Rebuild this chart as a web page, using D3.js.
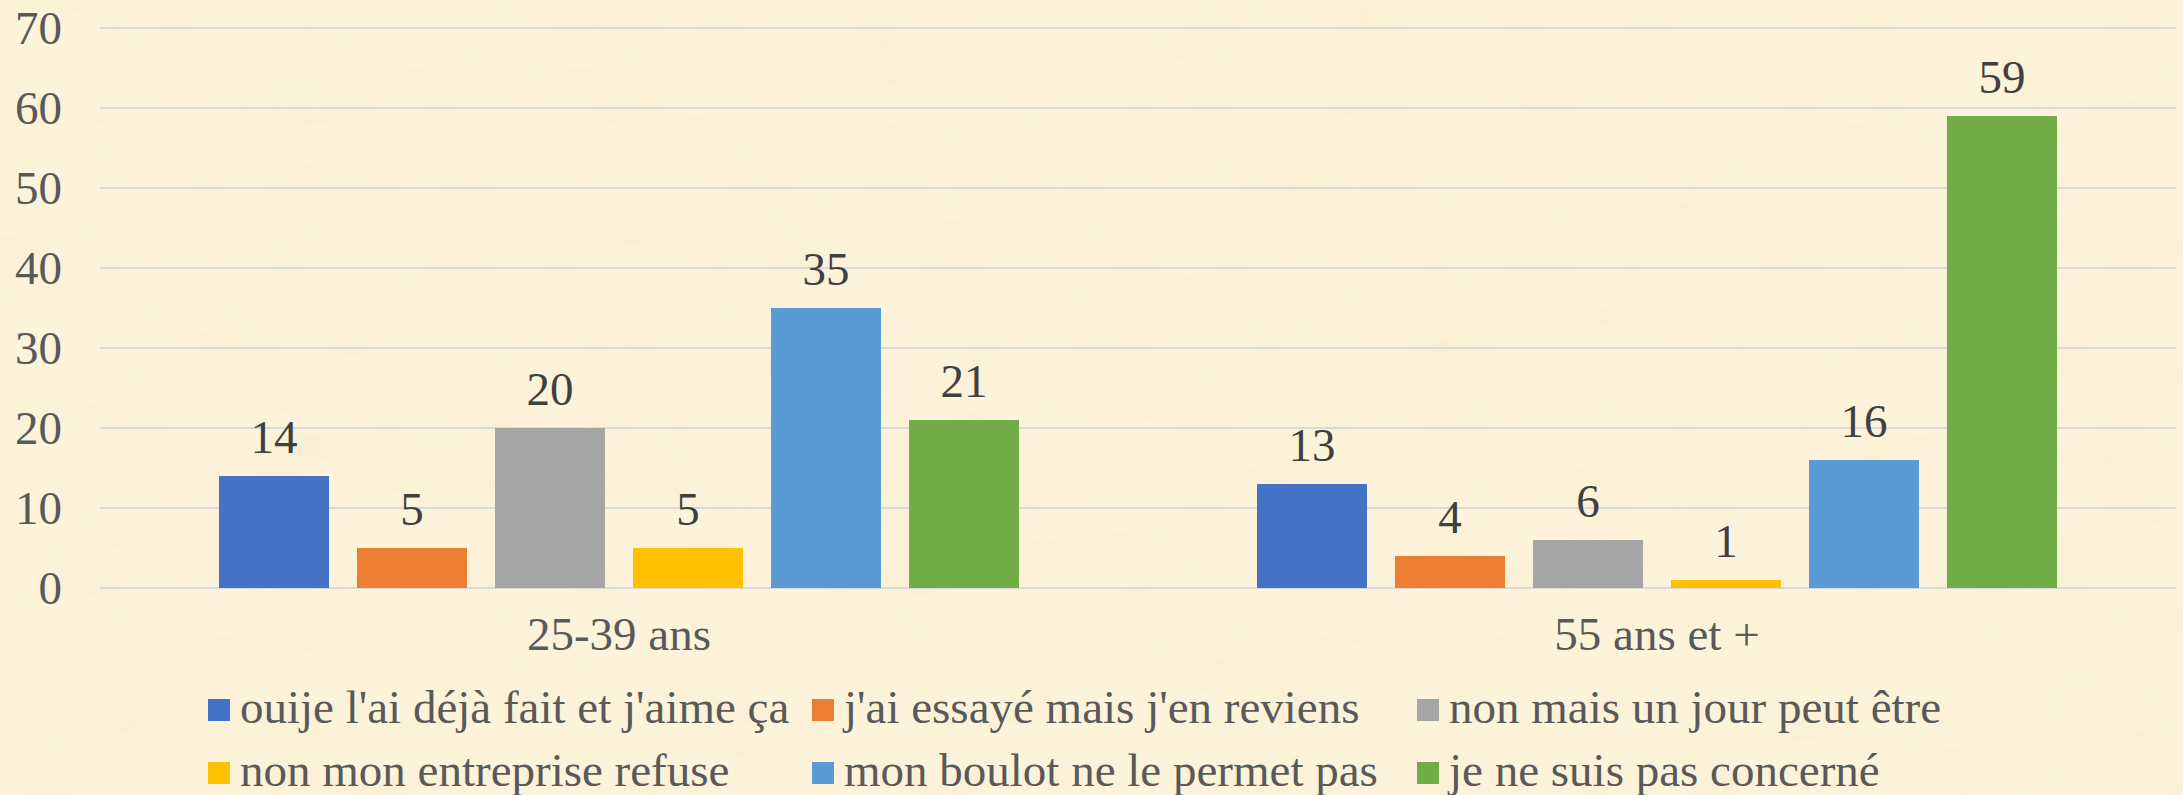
<!DOCTYPE html>
<html><head><meta charset="utf-8"><script src="https://cdn.jsdelivr.net/npm/d3@7"></script></head>
<body style="margin:0;background:#fdf3db">
<script>
const categories = ["25-39 ans", "55 ans et +"];
const series = [
  "ouije l'ai déjà fait et j'aime ça",
  "j'ai essayé mais j'en reviens",
  "non mais un jour peut être",
  "non mon entreprise refuse",
  "mon boulot ne le permet pas",
  "je ne suis pas concerné"
];
const values_25_39 = [14, 5, 20, 5, 35, 21];
const values_55 = [13, 4, 6, 1, 16, 59];
const yTicks = [0, 10, 20, 30, 40, 50, 60, 70];
const colors = ["#4472c4", "#ed7d31", "#a5a5a5", "#ffc000", "#5b9bd5", "#70ad47"];

const width = 2183, height = 795;
const values = [values_25_39, values_55];
const serifFont = '"Times New Roman"';

const svg = d3.select("body").append("svg").attr("width", width).attr("height", height);

// parchment background
const defs = svg.append("defs");
const filt = defs.append("filter").attr("id", "paper")
  .attr("x", 0).attr("y", 0).attr("width", "100%").attr("height", "100%");
filt.append("feTurbulence").attr("type", "fractalNoise")
  .attr("baseFrequency", "0.012 0.03").attr("numOctaves", 4).attr("seed", 7).attr("result", "n");
filt.append("feColorMatrix").attr("type", "matrix")
  .attr("values", "0 0 0 0 0.93  0 0 0 0 0.84  0 0 0 0 0.62  2.2 0 0 0 -1.0")
  .attr("result", "c");
filt.append("feComposite").attr("in", "c").attr("in2", "SourceGraphic").attr("operator", "in");

svg.append("rect").attr("width", width).attr("height", height).attr("fill", "#fdf3db");
svg.append("rect").attr("width", width).attr("height", height).attr("fill", "#fff")
  .attr("filter", "url(#paper)").attr("opacity", 0.6);

const left = 100, right = 2176;
const y = d3.scaleLinear().domain([0, 70]).range([588, 28]);
const x0 = d3.scaleBand().domain(categories).range([left, right]);
const gapOuter = 119;
const x1 = d3.scaleBand().domain(series)
  .range([gapOuter, x0.bandwidth() - gapOuter])
  .paddingInner(28 / 138);

// gridlines
svg.append("g").selectAll("line").data(yTicks).join("line")
  .attr("x1", left).attr("x2", right)
  .attr("y1", d => y(d)).attr("y2", d => y(d))
  .attr("stroke", "#d9d9d9").attr("stroke-width", 2);

// y axis labels
svg.append("g").selectAll("text").data(yTicks).join("text")
  .attr("x", 62).attr("y", d => y(d))
  .attr("dy", "0.35em")
  .attr("text-anchor", "end")
  .attr("font-size", 47)
  .style("font-family", serifFont)
  .attr("fill", "#595959")
  .text(d => d);

// bars
const groups = svg.append("g").selectAll("g").data(categories).join("g")
  .attr("transform", d => `translate(${x0(d)},0)`);

groups.selectAll("rect")
  .data((c, ci) => series.map((s, i) => ({ s, i, v: values[ci][i] })))
  .join("rect")
  .attr("x", d => x1(d.s))
  .attr("width", x1.bandwidth())
  .attr("y", d => y(d.v))
  .attr("height", d => y(0) - y(d.v))
  .attr("fill", d => colors[d.i]);

groups.selectAll("text")
  .data((c, ci) => series.map((s, i) => ({ s, i, v: values[ci][i] })))
  .join("text")
  .attr("x", d => x1(d.s) + x1.bandwidth() / 2)
  .attr("y", d => y(d.v) - 23)
  .attr("text-anchor", "middle")
  .attr("font-size", 47)
  .style("font-family", serifFont)
  .attr("fill", "#404040")
  .text(d => d.v);

// category labels
svg.append("g").selectAll("text").data(categories).join("text")
  .attr("x", d => x0(d) + x0.bandwidth() / 2)
  .attr("y", 650)
  .attr("text-anchor", "middle")
  .attr("font-size", 47)
  .style("font-family", serifFont)
  .attr("fill", "#595959")
  .text(d => d);

// legend: 3 columns x 2 rows
const legX = [208, 812, 1417];
const legY = [699, 762];
const leg = svg.append("g").selectAll("g").data(series).join("g")
  .attr("transform", (d, i) => `translate(${legX[i % 3]},${legY[Math.floor(i / 3)]})`);
leg.append("rect")
  .attr("width", 22).attr("height", 22)
  .attr("fill", (d, i) => colors[i]);
leg.append("text")
  .attr("x", 32).attr("y", 24)
  .attr("font-size", 47)
  .style("font-family", serifFont)
  .attr("fill", "#595959")
  .text(d => d);
</script></body></html>
